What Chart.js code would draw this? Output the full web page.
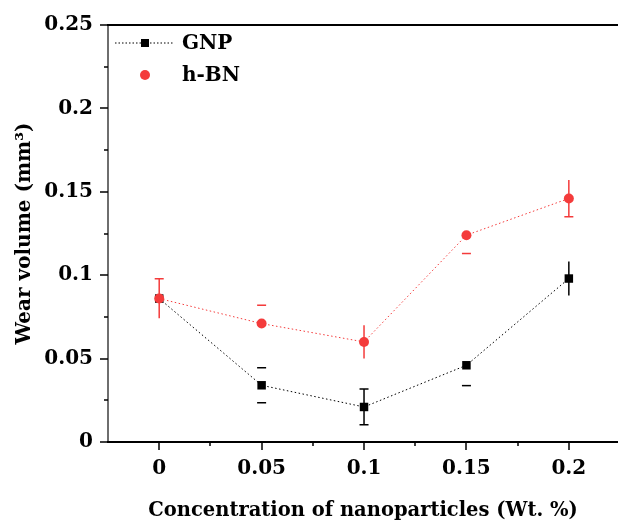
<!DOCTYPE html>
<html>
<head>
<meta charset="utf-8">
<script src="https://cdn.jsdelivr.net/npm/chart.js@4.4.1/dist/chart.umd.min.js"></script>
<style>
  html, body { margin: 0; padding: 0; background: #fff; }
  #wrap { width: 618px; height: 524px; }
</style>
</head>
<body>
<div id="wrap"><canvas id="wearChart" width="618" height="524"></canvas></div>
<script>
// concentration of nanoparticles (wt. %)
const concentration = [0, 0.05, 0.1, 0.15, 0.2];

// wear volume (mm3) and error half-widths
const gnpWear = [0.086, 0.034, 0.021, 0.046, 0.098];
const gnpErr = [0.011, 0.0105, 0.0107, 0.0122, 0.0102];
const hbnWear = [0.086, 0.071, 0.060, 0.124, 0.146];
const hbnErr = [0.0118, 0.011, 0.010, 0.011, 0.011];

// which parts of each error bar show up
const gnpErrParts = ['', 'top bottom', 'stem top bottom', 'bottom', 'stem'];
const hbnErrParts = ['stem top', 'top', 'stem', 'bottom', 'stem bottom'];

const xTicks = [0, 0.05, 0.1, 0.15, 0.2];
const yTicks = [0, 0.05, 0.1, 0.15, 0.2, 0.25];

const RED = '#f43b3b';
const FONT = 'DejaVu Serif';

const toPoints = (xs, ys) => xs.map((x, i) => ({ x: x, y: ys[i] }));

/* error bars, drawn under the markers */
const errorBars = {
    id: 'errorBars',
    beforeDatasetsDraw(chart) {
        const ctx = chart.ctx;
        const xs = chart.scales.x, ys = chart.scales.y;
        chart.data.datasets.slice().reverse().forEach(ds => {
            ctx.save();
            ctx.strokeStyle = ds.borderColor === RED ? RED : '#000';
            ctx.lineWidth = 1.5;
            ds.data.forEach((p, i) => {
                const parts = ds.errParts[i];
                if (!parts) return;
                const px = xs.getPixelForValue(p.x);
                const top = ys.getPixelForValue(p.y + ds.err[i]);
                const bot = ys.getPixelForValue(p.y - ds.err[i]);
                ctx.beginPath();
                if (parts.includes('stem')) { ctx.moveTo(px, top); ctx.lineTo(px, bot); }
                if (parts.includes('top')) { ctx.moveTo(px - 4.5, top); ctx.lineTo(px + 4.5, top); }
                if (parts.includes('bottom')) { ctx.moveTo(px - 4.5, bot); ctx.lineTo(px + 4.5, bot); }
                ctx.stroke();
            });
            ctx.restore();
        });
    }
};

/* axis frame, ticks (major + minor) and the legend box */
const frame = {
    id: 'frame',
    afterDraw(chart) {
        const ctx = chart.ctx;
        const a = chart.chartArea;
        const xs = chart.scales.x, ys = chart.scales.y;
        ctx.save();
        // left axis (grey) and bottom/top axis (black)
        ctx.lineWidth = 2;
        ctx.strokeStyle = '#6e6e6e';
        ctx.beginPath(); ctx.moveTo(a.left, a.top); ctx.lineTo(a.left, a.bottom); ctx.stroke();
        ctx.strokeStyle = '#000';
        ctx.beginPath(); ctx.moveTo(a.left - 1, a.bottom); ctx.lineTo(a.right, a.bottom); ctx.stroke();
        ctx.beginPath(); ctx.moveTo(a.left - 1, a.top); ctx.lineTo(a.right, a.top); ctx.stroke();

        ctx.lineWidth = 1.5;
        ctx.beginPath();
        for (let v = 0; v <= 0.2501; v += 0.025) {
            const py = Math.round(ys.getPixelForValue(v));
            const len = Math.round(v * 1000) % 50 === 0 ? 8 : 4;
            ctx.moveTo(a.left - len, py); ctx.lineTo(a.left, py);
        }
        for (let v = -0.025; v <= 0.2251; v += 0.025) {
            const px = Math.round(xs.getPixelForValue(v));
            if (px <= a.left + 1 || px > a.right) continue;
            const len = Math.round(v * 1000) % 50 === 0 ? 8 : 4;
            ctx.moveTo(px, a.bottom); ctx.lineTo(px, a.bottom + len);
        }
        ctx.stroke();

        // legend
        const lx = 145;
        ctx.strokeStyle = '#000';
        ctx.lineWidth = 1;
        ctx.setLineDash([1.5, 2]);
        ctx.beginPath(); ctx.moveTo(115, 43); ctx.lineTo(173, 43); ctx.stroke();
        ctx.setLineDash([]);
        ctx.fillStyle = '#000';
        ctx.fillRect(lx - 4, 39, 8, 8);
        ctx.fillStyle = RED;
        ctx.beginPath(); ctx.arc(lx, 75, 5, 0, Math.PI * 2); ctx.fill();
        ctx.fillStyle = '#000';
        ctx.font = 'bold 20px "' + FONT + '"';
        ctx.textAlign = 'left';
        ctx.textBaseline = 'middle';
        ctx.fillText('GNP', 182, 44);
        ctx.fillText('h-BN', 182, 76);
        ctx.restore();
    }
};

new Chart(document.getElementById('wearChart'), {
    type: 'line',
    data: {
        datasets: [
            {
                label: 'h-BN',
                data: toPoints(concentration, hbnWear),
                err: hbnErr,
                errParts: hbnErrParts,
                borderColor: RED,
                backgroundColor: RED,
                borderWidth: 1,
                borderDash: [1.5, 2.5],
                pointStyle: 'circle',
                pointRadius: 5,
                pointBorderWidth: 0
            },
            {
                label: 'GNP',
                data: toPoints(concentration, gnpWear),
                err: gnpErr,
                errParts: gnpErrParts,
                borderColor: '#000',
                backgroundColor: '#000',
                borderWidth: 1,
                borderDash: [1.5, 2.5],
                pointStyle: 'rect',
                pointRadius: 6,
                pointBorderWidth: 0
            }
        ]
    },
    options: {
        responsive: false,
        animation: false,
        layout: { autoPadding: false, padding: { top: 25, right: 0, bottom: 0, left: 0 } },
        plugins: {
            legend: { display: false },
            tooltip: { enabled: false }
        },
        scales: {
            x: {
                type: 'linear',
                min: -0.025,
                max: 0.224,
                afterBuildTicks: s => { s.ticks = xTicks.map(v => ({ value: v })); },
                afterFit: s => { s.height = 82; s.paddingLeft = 0; s.paddingRight = 0; },
                grid: { display: false, drawTicks: false },
                border: { display: false },
                ticks: {
                    padding: 15,
                    color: '#000',
                    font: { family: FONT, size: 20, weight: 'bold' },
                    callback: v => String(v)
                },
                title: {
                    display: true,
                    text: 'Concentration of nanoparticles (Wt. %)',
                    color: '#000',
                    font: { family: FONT, size: 19.5, weight: 'bold' },
                    padding: { top: 0, bottom: 1 }
                }
            },
            y: {
                min: 0,
                max: 0.25,
                afterBuildTicks: s => { s.ticks = yTicks.map(v => ({ value: v })); },
                afterFit: s => { s.width = 108; s.paddingTop = 0; s.paddingBottom = 0; },
                grid: { display: false, drawTicks: false },
                border: { display: false },
                ticks: {
                    padding: 15,
                    color: '#000',
                    font: { family: FONT, size: 20, weight: 'bold' },
                    callback: v => String(v)
                },
                title: {
                    display: true,
                    text: 'Wear volume (mm³)',
                    color: '#000',
                    font: { family: FONT, size: 20, weight: 'bold' },
                    padding: { top: 13, bottom: 0 }
                }
            }
        }
    },
    plugins: [errorBars, frame]
});
</script>
</body>
</html>
